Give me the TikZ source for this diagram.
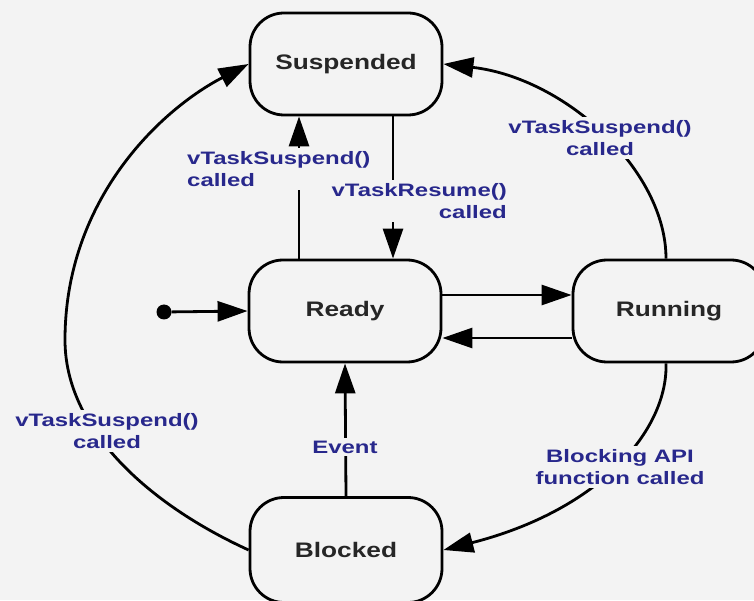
\documentclass[tikz,border=0pt]{standalone}
\usepackage{fontspec}
\setmainfont{Liberation Sans}
\newfontfamily\statefont[FakeStretch=1.25]{Liberation Sans}
\newfontfamily\labelfont[FakeStretch=1.33]{Liberation Sans}
\usepackage{tikz}
\usetikzlibrary{arrows.meta}

\definecolor{bggray}{RGB}{243,243,243}
\definecolor{lblblue}{RGB}{40,40,140}

\tikzset{
	state/.style = {draw, line width = 2.8pt, rounded corners = 34pt, fill = bggray,
		minimum width = 192pt, minimum height = 102pt, text = black!85,
		font = \statefont\bfseries\fontsize{21}{25}\selectfont},
	dot/.style = {circle, fill = black, inner sep = 0pt, minimum size = 15pt},
	trans/.style = {line width = 2.8pt, -{Triangle[length = 30pt, width = 20pt]}},
	lbl/.style = {fill = bggray, text = lblblue, inner sep = 3pt,
		font = \labelfont\bfseries\fontsize{18}{22}\selectfont}
}

\begin{document}
\begin{tikzpicture}[x = 1pt, y = 1pt]
			\def\xMAX{754};
			\def\yMAX{600};

			\def\up{16};
			\def\dn{27};

			\useasboundingbox (0,0) rectangle (\xMAX,\yMAX);
			\fill [bggray] (0,0) rectangle (\xMAX,\yMAX);

			\begin{scope}
				\node [state] (susp) at (346,536) {Suspended};
				\node [state] (ready) at (345,289) {Ready};
				\node [state] (run) at (669,289) {Running};
				\node [state, minimum height = 105pt] (blk) at (346,50) {Blocked};
				\node [dot] (start) at (164,288) {};
			\end{scope}

			\begin{scope}[trans]
				\draw (start) -- (ready.west);
				\draw ([xshift=-46pt]ready.north) -- ([xshift=-46pt]ready.north |- susp.south);
				\draw ([xshift=47pt]susp.south) -- ([xshift=47pt]susp.south |- ready.north);
				\draw ([yshift=\up pt]ready.east) -- ([yshift=\up pt]ready.east -| run.west);
				\draw ([yshift=-\dn pt]run.west) -- ([yshift=-\dn pt]run.west -| ready.east);
				\draw (blk.north) -- (ready.south);
				\draw ([xshift=-3pt]run.north) .. controls (666,430) and (565,522) .. (susp.east);
				\draw ([xshift=-3pt]run.south) .. controls (668,170) and (600,90) .. (blk.east);
				\draw (blk.west) .. controls (150,95) and (65,170) .. (65,260)
					.. controls (65,400) and (160,490) .. (susp.west);
			\end{scope}

			\begin{scope}
				\node [lbl, align = left, anchor = west] (susplbl) at (184,431) {vTaskSuspend()\\called};
				\node [lbl, align = right, anchor = east] (reslbl) at (510,399) {vTaskResume()\\called};
				\node [lbl, align = center] (runsusplbl) at (600,462) {vTaskSuspend()\\called};
				\node [lbl, align = center] (blocklbl) at (620,133) {Blocking API\\function called};
				\node [lbl, align = center] (blksusplbl) at (107,169) {vTaskSuspend()\\called};
				\node [lbl] (eventlbl) at (345,153) {Event};
			\end{scope}
		\end{tikzpicture}
\end{document}
